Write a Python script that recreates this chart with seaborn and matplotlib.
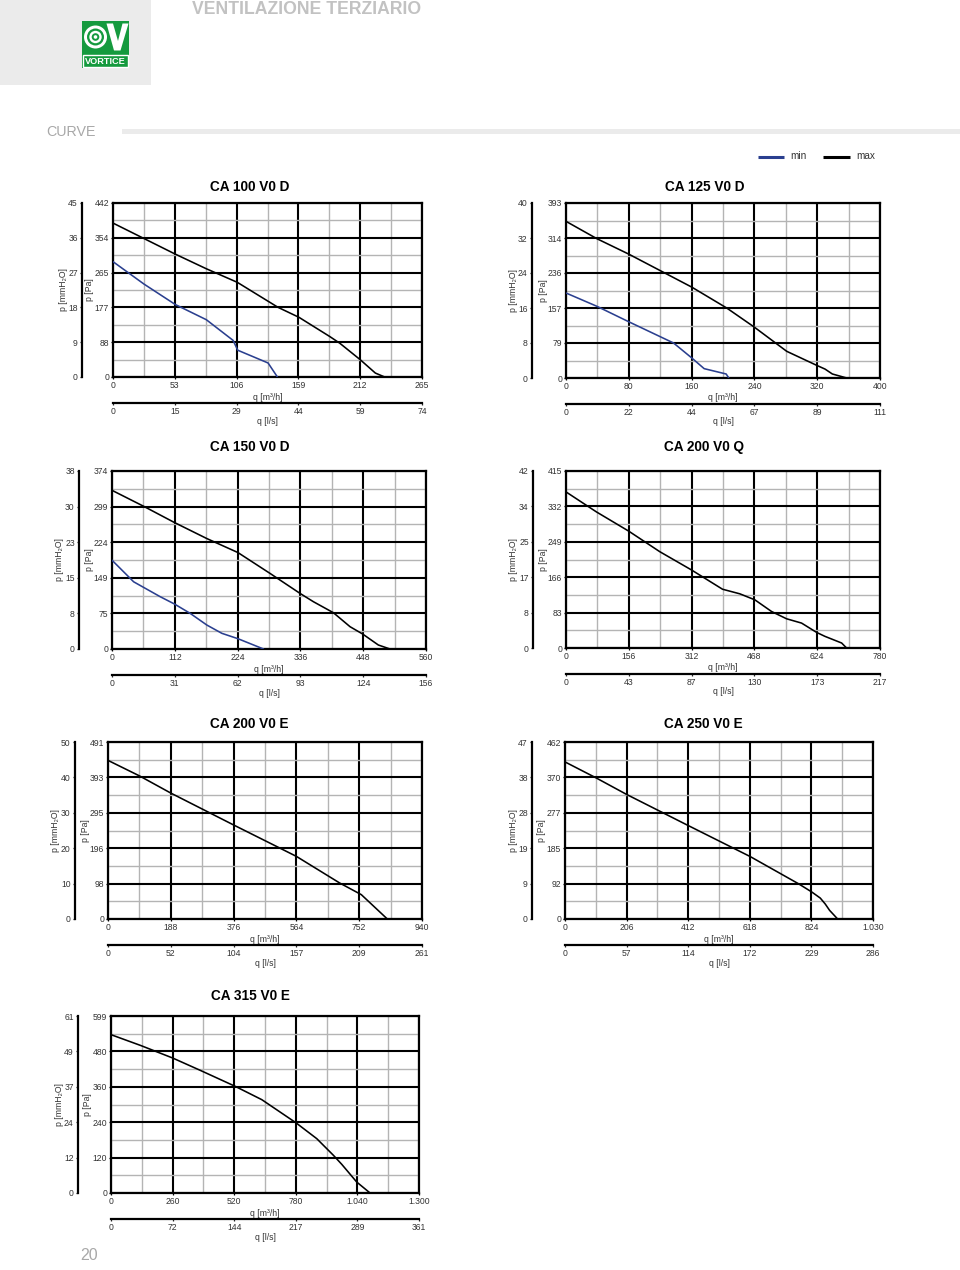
import matplotlib
matplotlib.use("Agg")
import numpy as np
import pandas as pd
import matplotlib.pyplot as plt
from matplotlib.patches import Rectangle, Circle, Polygon
import seaborn as sns

# ---------------- data ----------------
titles = ["CA 100 V0 D", "CA 125 V0 D", "CA 150 V0 D", "CA 200 V0 Q",
          "CA 200 V0 E", "CA 250 V0 E", "CA 315 V0 E"]

ca100_q_ticks = ["0", "53", "106", "159", "212", "265"]
ca100_ls_ticks = ["0", "15", "29", "44", "59", "74"]
ca100_pa_ticks = ["0", "88", "177", "265", "354", "442"]
ca100_mm_ticks = ["0", "9", "18", "27", "36", "45"]
ca100_max_q = [0, 53.5, 80, 106.6, 141.5, 159.5, 185.8, 194.4, 212, 225, 233]
ca100_max_p = [391, 312, 275, 240.5, 177, 151.6, 103, 86, 44, 10, 0]
ca100_min_q = [0, 26.6, 53.5, 80, 103, 107, 133, 141]
ca100_min_p = [293, 236, 184, 145.6, 93, 68, 35.6, 0]

ca125_q_ticks = ["0", "80", "160", "240", "320", "400"]
ca125_ls_ticks = ["0", "22", "44", "67", "89", "111"]
ca125_pa_ticks = ["0", "79", "157", "236", "314", "393"]
ca125_mm_ticks = ["0", "8", "16", "24", "32", "40"]
ca125_max_q = [0, 39.4, 79.7, 160.3, 204.9, 239.7, 281.2, 319.4, 330, 339.3, 357.6]
ca125_max_p = [351.8, 312.8, 278.4, 204, 157, 114.5, 59.9, 28.4, 20, 9, 0]
ca125_min_q = [0, 39.4, 79.7, 137, 160.3, 176, 204, 207.4]
ca125_min_p = [190.9, 161, 126.5, 78.6, 44.9, 21, 9, 0]

ca150_q_ticks = ["0", "112", "224", "336", "448", "560"]
ca150_ls_ticks = ["0", "31", "62", "93", "124", "156"]
ca150_pa_ticks = ["0", "75", "149", "224", "299", "374"]
ca150_mm_ticks = ["0", "8", "15", "23", "30", "38"]
ca150_max_q = [0, 56.4, 111.6, 169.2, 224.5, 282, 335.5, 359.3, 394.9, 424.6, 447, 475, 495.8]
ca150_max_p = [333.4, 299.9, 265.6, 232, 202.7, 158.7, 116.7, 99.3, 76.2, 46.8, 31.5, 8.4, 0]
ca150_min_q = [0, 38.6, 86.1, 111.6, 139.5, 169.2, 196, 224.5, 270.2]
ca150_min_p = [186.6, 141.2, 109.8, 94.4, 74.8, 50.3, 32.9, 21.7, 0]

ca200q_q_ticks = ["0", "156", "312", "468", "624", "780"]
ca200q_ls_ticks = ["0", "43", "87", "130", "173", "217"]
ca200q_pa_ticks = ["0", "83", "166", "249", "332", "415"]
ca200q_mm_ticks = ["0", "8", "17", "25", "34", "42"]
ca200q_max_q = [0, 75.4, 155.8, 233, 311.7, 388.8, 431.9, 469.2, 510.6, 547.9, 585.2, 622.5, 643.2, 684.7, 697]
ca200q_max_p = [366, 319.2, 274, 225.8, 183, 137.8, 127, 112.9, 85.6, 68.5, 58.4, 36.6, 27.3, 11.7, 0]

ca200e_q_ticks = ["0", "188", "376", "564", "752", "940"]
ca200e_ls_ticks = ["0", "52", "104", "157", "209", "261"]
ca200e_pa_ticks = ["0", "98", "196", "295", "393", "491"]
ca200e_mm_ticks = ["0", "10", "20", "30", "40", "50"]
ca200e_max_q = [0, 94.8, 187.6, 374.2, 494, 563.8, 693.5, 758.4, 836.2]
ca200e_max_p = [440, 396.7, 349.5, 261.7, 206.2, 173.8, 99.9, 67.5, 0]

ca250e_q_ticks = ["0", "206", "412", "618", "824", "1.030"]
ca250e_ls_ticks = ["0", "57", "114", "172", "229", "286"]
ca250e_pa_ticks = ["0", "92", "185", "277", "370", "462"]
ca250e_mm_ticks = ["0", "9", "19", "28", "38", "47"]
ca250e_max_q = [0, 103.8, 206.4, 412.9, 619.3, 781.1, 825.8, 853.7, 870.4, 884.9, 898.3, 911.7]
ca250e_max_p = [410, 368.4, 325, 243.6, 163, 91.9, 70.2, 54.6, 39, 22.5, 11.3, 0]

ca315e_q_ticks = ["0", "260", "520", "780", "1.040", "1.300"]
ca315e_ls_ticks = ["0", "72", "144", "217", "289", "361"]
ca315e_pa_ticks = ["0", "120", "240", "360", "480", "599"]
ca315e_mm_ticks = ["0", "12", "24", "37", "49", "61"]
ca315e_max_q = [0, 123.7, 260, 376.7, 524.2, 636.6, 780, 868.5, 938.8, 974, 1037, 1093.4]
ca315e_max_p = [535.8, 499.7, 456.9, 415.1, 361, 315.8, 238, 183.9, 127.5, 97, 37.2, 0]

series_names = ["min", "max"]

panels = [
    dict(q=ca100_q_ticks, ls=ca100_ls_ticks, pa=ca100_pa_ticks, mm=ca100_mm_ticks,
         mx=(ca100_max_q, ca100_max_p), mn=(ca100_min_q, ca100_min_p)),
    dict(q=ca125_q_ticks, ls=ca125_ls_ticks, pa=ca125_pa_ticks, mm=ca125_mm_ticks,
         mx=(ca125_max_q, ca125_max_p), mn=(ca125_min_q, ca125_min_p)),
    dict(q=ca150_q_ticks, ls=ca150_ls_ticks, pa=ca150_pa_ticks, mm=ca150_mm_ticks,
         mx=(ca150_max_q, ca150_max_p), mn=(ca150_min_q, ca150_min_p)),
    dict(q=ca200q_q_ticks, ls=ca200q_ls_ticks, pa=ca200q_pa_ticks, mm=ca200q_mm_ticks,
         mx=(ca200q_max_q, ca200q_max_p), mn=None),
    dict(q=ca200e_q_ticks, ls=ca200e_ls_ticks, pa=ca200e_pa_ticks, mm=ca200e_mm_ticks,
         mx=(ca200e_max_q, ca200e_max_p), mn=None),
    dict(q=ca250e_q_ticks, ls=ca250e_ls_ticks, pa=ca250e_pa_ticks, mm=ca250e_mm_ticks,
         mx=(ca250e_max_q, ca250e_max_p), mn=None),
    dict(q=ca315e_q_ticks, ls=ca315e_ls_ticks, pa=ca315e_pa_ticks, mm=ca315e_mm_ticks,
         mx=(ca315e_max_q, ca315e_max_p), mn=None),
]

# ---------------- layout (pixels) ----------------
# left, right, top, bottom, mm spine x, title x, title y
boxes = [
    (113, 422, 203, 377, 82, 250, 187),
    (566, 880, 203, 378, 532, 705, 187),
    (112, 426, 471, 649, 79, 250, 447),
    (566, 880, 471, 648, 533, 704, 447),
    (108, 422, 742, 919, 75, 249, 724),
    (565, 873, 742, 919, 532, 703, 724),
    (111, 419, 1016, 1193, 78, 250, 996),
]

W, H = 960, 1270
BLUE = "#2a3f8f"
TXT = "#333333"
FS = 6.2

sns.set_theme(style="white")
plt.rcParams["font.family"] = ["Liberation Sans", "DejaVu Sans"]
plt.rcParams["axes.unicode_minus"] = False

fig = plt.figure(figsize=(W / 100, H / 100), dpi=100)
fig.patch.set_facecolor("white")

# overlay in pixel coordinates
bg = fig.add_axes([0, 0, 1, 1])
bg.set_xlim(0, W)
bg.set_ylim(H, 0)
bg.axis("off")

# header
bg.add_patch(Rectangle((0, 0), 151, 85, color="#ebebeb", lw=0))
bg.add_patch(Rectangle((81.7, 20.7), 47.3, 47.6, color="#159a3e", lw=0))
for r, c in [(11.5, "white"), (8.5, "#159a3e"), (6.2, "white"), (3.8, "#159a3e"), (1.8, "white")]:
    bg.add_patch(Circle((95.5, 37), r, color=c, lw=0))
bg.add_patch(Polygon([(106.5, 23.5), (113, 23.5), (118, 41), (122.5, 23.5), (128.5, 23.5),
                      (120.5, 50.5), (114, 50.5)], closed=True, color="white", lw=0))
bg.add_patch(Rectangle((83, 54.5), 44.5, 12.5, fill=False, ec="white", lw=1.0))
bg.text(105.3, 61, "VORTICE", color="white", fontsize=6.6, fontweight="bold",
        ha="center", va="center")
bg.text(192, 9.5, "VENTILAZIONE TERZIARIO", color="#c2c2c2", fontsize=12.7,
        fontweight="bold", ha="left", va="center")
bg.text(46, 131.5, "CURVE", color="#a8a8a8", fontsize=10.3, ha="left", va="center")
bg.add_patch(Rectangle((122, 129.3), W - 122, 4.5, color="#ebebeb", lw=0))

# legend
bg.plot([758, 784], [156.5, 156.5], color=BLUE, lw=2.2, solid_capstyle="butt")
bg.text(790, 156, series_names[0], color=TXT, fontsize=7.2, ha="left", va="center")
bg.plot([823, 850], [156.5, 156.5], color="black", lw=2.2, solid_capstyle="butt")
bg.text(856, 156, series_names[1], color=TXT, fontsize=7.2, ha="left", va="center")

# page number
bg.text(80, 1256, "20", color="#a8a8a8", fontsize=11.5, ha="left", va="center")


def num(s):
    return float(s.replace(".", ""))


for i, (p, box) in enumerate(zip(panels, boxes)):
    L, R, T, B, MMX, TX, TY = box
    ax = fig.add_axes([L / W, 1 - B / H, (R - L) / W, (B - T) / H])
    qmax = num(p["q"][-1])
    pmax = num(p["pa"][-1])
    qpos = np.linspace(0, qmax, 6)
    ppos = np.linspace(0, pmax, 6)

    if p["mn"] is not None:
        dmn = pd.DataFrame({"q": p["mn"][0], "p": p["mn"][1]})
        sns.lineplot(data=dmn, x="q", y="p", ax=ax, color=BLUE, lw=1.15,
                     legend=False, zorder=5)
    dmx = pd.DataFrame({"q": p["mx"][0], "p": p["mx"][1]})
    sns.lineplot(data=dmx, x="q", y="p", ax=ax, color="black", lw=1.15,
                 legend=False, zorder=6)

    ax.set_xlim(0, qmax)
    ax.set_ylim(0, pmax)
    ax.set_xlabel("")
    ax.set_ylabel("")
    ax.set_xticks(qpos, p["q"])
    ax.set_yticks(ppos, p["pa"])
    ax.set_xticks(qpos[:-1] + qmax / 10, minor=True)
    ax.set_yticks(ppos[:-1] + pmax / 10, minor=True)
    ax.set_axisbelow(True)
    ax.grid(which="major", color="black", lw=1.5)
    ax.grid(which="minor", color="#b4b4b4", lw=1.0)
    ax.tick_params(which="major", direction="out", length=1.6, width=0.9, pad=1.2,
                   labelsize=FS, labelcolor=TXT, color="black",
                   bottom=True, left=True)
    ax.tick_params(which="minor", length=0)
    for s in ax.spines.values():
        s.set_visible(True)
        s.set_color("black")
        s.set_linewidth(1.6)

    # mmH2O axis
    axm = ax.twinx()
    axm.set_ylim(0, pmax)
    axm.yaxis.set_ticks_position("left")
    axm.spines["left"].set_position(("axes", (MMX - L) / (R - L)))
    for k in ["right", "top", "bottom"]:
        axm.spines[k].set_visible(False)
    axm.spines["left"].set_visible(True)
    axm.spines["left"].set_color("black")
    axm.spines["left"].set_linewidth(1.6)
    axm.set_yticks(ppos, p["mm"])
    axm.tick_params(axis="y", direction="out", length=1.6, width=0.9, pad=1.5,
                    labelsize=FS, labelcolor=TXT, left=True, right=False,
                    labelleft=True, labelright=False)
    axm.grid(False)

    # l/s axis
    axl = ax.twiny()
    axl.set_xlim(0, qmax)
    axl.xaxis.set_ticks_position("bottom")
    axl.spines["bottom"].set_position(("axes", -26.0 / (B - T)))
    for k in ["left", "right", "top"]:
        axl.spines[k].set_visible(False)
    axl.spines["bottom"].set_visible(True)
    axl.spines["bottom"].set_color("black")
    axl.spines["bottom"].set_linewidth(1.6)
    axl.set_xticks(qpos, p["ls"])
    axl.tick_params(axis="x", direction="out", length=1.6, width=0.9, pad=1.2,
                    labelsize=FS, labelcolor=TXT, bottom=True, top=False,
                    labelbottom=True, labeltop=False)
    axl.grid(False)

    # labels and title
    cx = (L + R) / 2
    cy = (T + B) / 2
    bg.text(cx, B + 20, "q [m³/h]", fontsize=FS, color=TXT, ha="center", va="center")
    bg.text(cx, B + 44, "q [l/s]", fontsize=FS, color=TXT, ha="center", va="center")
    bg.text(L - 23, cy, "p [Pa]", fontsize=FS, color=TXT, ha="center", va="center",
            rotation=90)
    bg.text(MMX - 19, cy, "p [mmH₂O]", fontsize=FS, color=TXT, ha="center",
            va="center", rotation=90)
    bg.text(TX, TY, titles[i], fontsize=9.8, fontweight="bold", color="black",
            ha="center", va="center")

fig.savefig("out.png", dpi=100, facecolor="white")
